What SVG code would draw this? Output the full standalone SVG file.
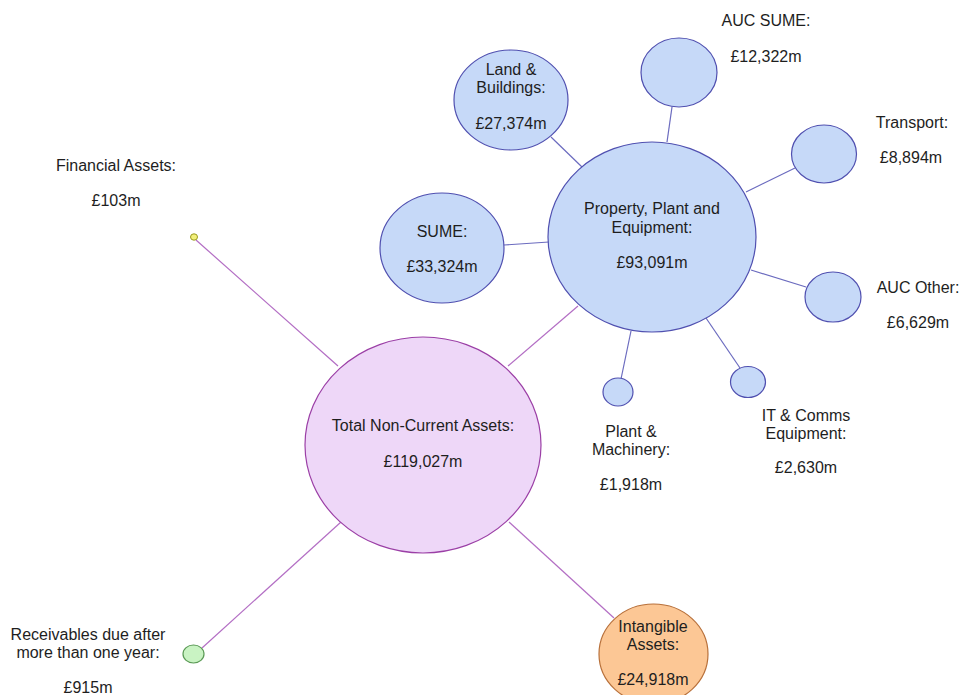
<svg xmlns="http://www.w3.org/2000/svg" width="961" height="695" viewBox="0 0 961 695">
<style>
text{font-family:"Liberation Sans",Arial,sans-serif;font-size:16px;fill:#1e1e1e;text-anchor:middle}
.blue{fill:#c6d9f8;stroke:#5050b0;stroke-width:1.2}
.tot{fill:#eed7f8;stroke:#9b3fa6;stroke-width:1.2}
.cb{stroke:#6b6bbf;stroke-width:1.2;fill:none}
.cp{stroke:#b36ec4;stroke-width:1.2;fill:none}
</style>
<rect width="961" height="695" fill="#fff"/>
<g id="connectors">
<line class="cp" x1="196" y1="240" x2="338" y2="366"/>
<line class="cp" x1="202" y1="648" x2="341" y2="522"/>
<line class="cp" x1="614" y1="618" x2="509" y2="522"/>
<line class="cp" x1="508" y1="366" x2="578" y2="306"/>
<line class="cb" x1="551" y1="137" x2="582" y2="167"/>
<line class="cb" x1="672" y1="107" x2="667" y2="142"/>
<line class="cb" x1="795" y1="168" x2="746" y2="192"/>
<line class="cb" x1="504" y1="245" x2="549" y2="242"/>
<line class="cb" x1="806" y1="287" x2="751" y2="270"/>
<line class="cb" x1="740" y1="368" x2="706" y2="318"/>
<line class="cb" x1="621" y1="379" x2="631" y2="331"/>
</g>
<g id="total">
<ellipse class="tot" cx="423" cy="445" rx="118" ry="108"/>
<text x="423" y="431">Total Non-Current Assets:</text>
<text x="423" y="467">£119,027m</text>
</g>
<g id="ppe">
<ellipse class="blue" cx="652" cy="237" rx="104" ry="95"/>
<text x="652" y="214">Property, Plant and</text>
<text x="652" y="233">Equipment:</text>
<text x="652" y="268">£93,091m</text>
</g>
<g id="land">
<ellipse class="blue" cx="511" cy="100" rx="57" ry="50"/>
<text x="511" y="75">Land &amp;</text>
<text x="511" y="93">Buildings:</text>
<text x="511" y="129">£27,374m</text>
</g>
<g id="aucsume">
<ellipse class="blue" cx="679" cy="72.5" rx="38" ry="34.5"/>
<text x="766" y="26">AUC SUME:</text>
<text x="766" y="62">£12,322m</text>
</g>
<g id="transport">
<ellipse class="blue" cx="824" cy="154" rx="32.5" ry="29"/>
<text x="912" y="128">Transport:</text>
<text x="911" y="163">£8,894m</text>
</g>
<g id="sume">
<ellipse class="blue" cx="442" cy="248" rx="62" ry="55"/>
<text x="442" y="237">SUME:</text>
<text x="442" y="272">£33,324m</text>
</g>
<g id="aucother">
<ellipse class="blue" cx="833" cy="297" rx="28" ry="25"/>
<text x="918" y="293">AUC Other:</text>
<text x="918" y="328">£6,629m</text>
</g>
<g id="itcomms">
<ellipse class="blue" cx="748" cy="382" rx="17.5" ry="15.5"/>
<text x="806" y="421">IT &amp; Comms</text>
<text x="806" y="439">Equipment:</text>
<text x="806" y="473">£2,630m</text>
</g>
<g id="plant">
<ellipse class="blue" cx="618" cy="392" rx="15" ry="14"/>
<text x="631" y="437">Plant &amp;</text>
<text x="631" y="455">Machinery:</text>
<text x="631" y="490">£1,918m</text>
</g>
<g id="financial">
<ellipse cx="194" cy="237" rx="3.5" ry="3.2" fill="#f2f07a" stroke="#9a9a20" stroke-width="1"/>
<text x="116" y="171">Financial Assets:</text>
<text x="116" y="206">£103m</text>
</g>
<g id="receivables">
<ellipse cx="193.5" cy="654" rx="10.5" ry="9" fill="#c9f3c3" stroke="#5a9a55" stroke-width="1.2"/>
<text x="88" y="640">Receivables due after</text>
<text x="88" y="658">more than one year:</text>
<text x="88" y="693">£915m</text>
</g>
<g id="intangible">
<ellipse cx="653.5" cy="654" rx="54.5" ry="50" fill="#fcc795" stroke="#b8703a" stroke-width="1.2"/>
<text x="653" y="632">Intangible</text>
<text x="653" y="650">Assets:</text>
<text x="653" y="685">£24,918m</text>
</g>
</svg>
